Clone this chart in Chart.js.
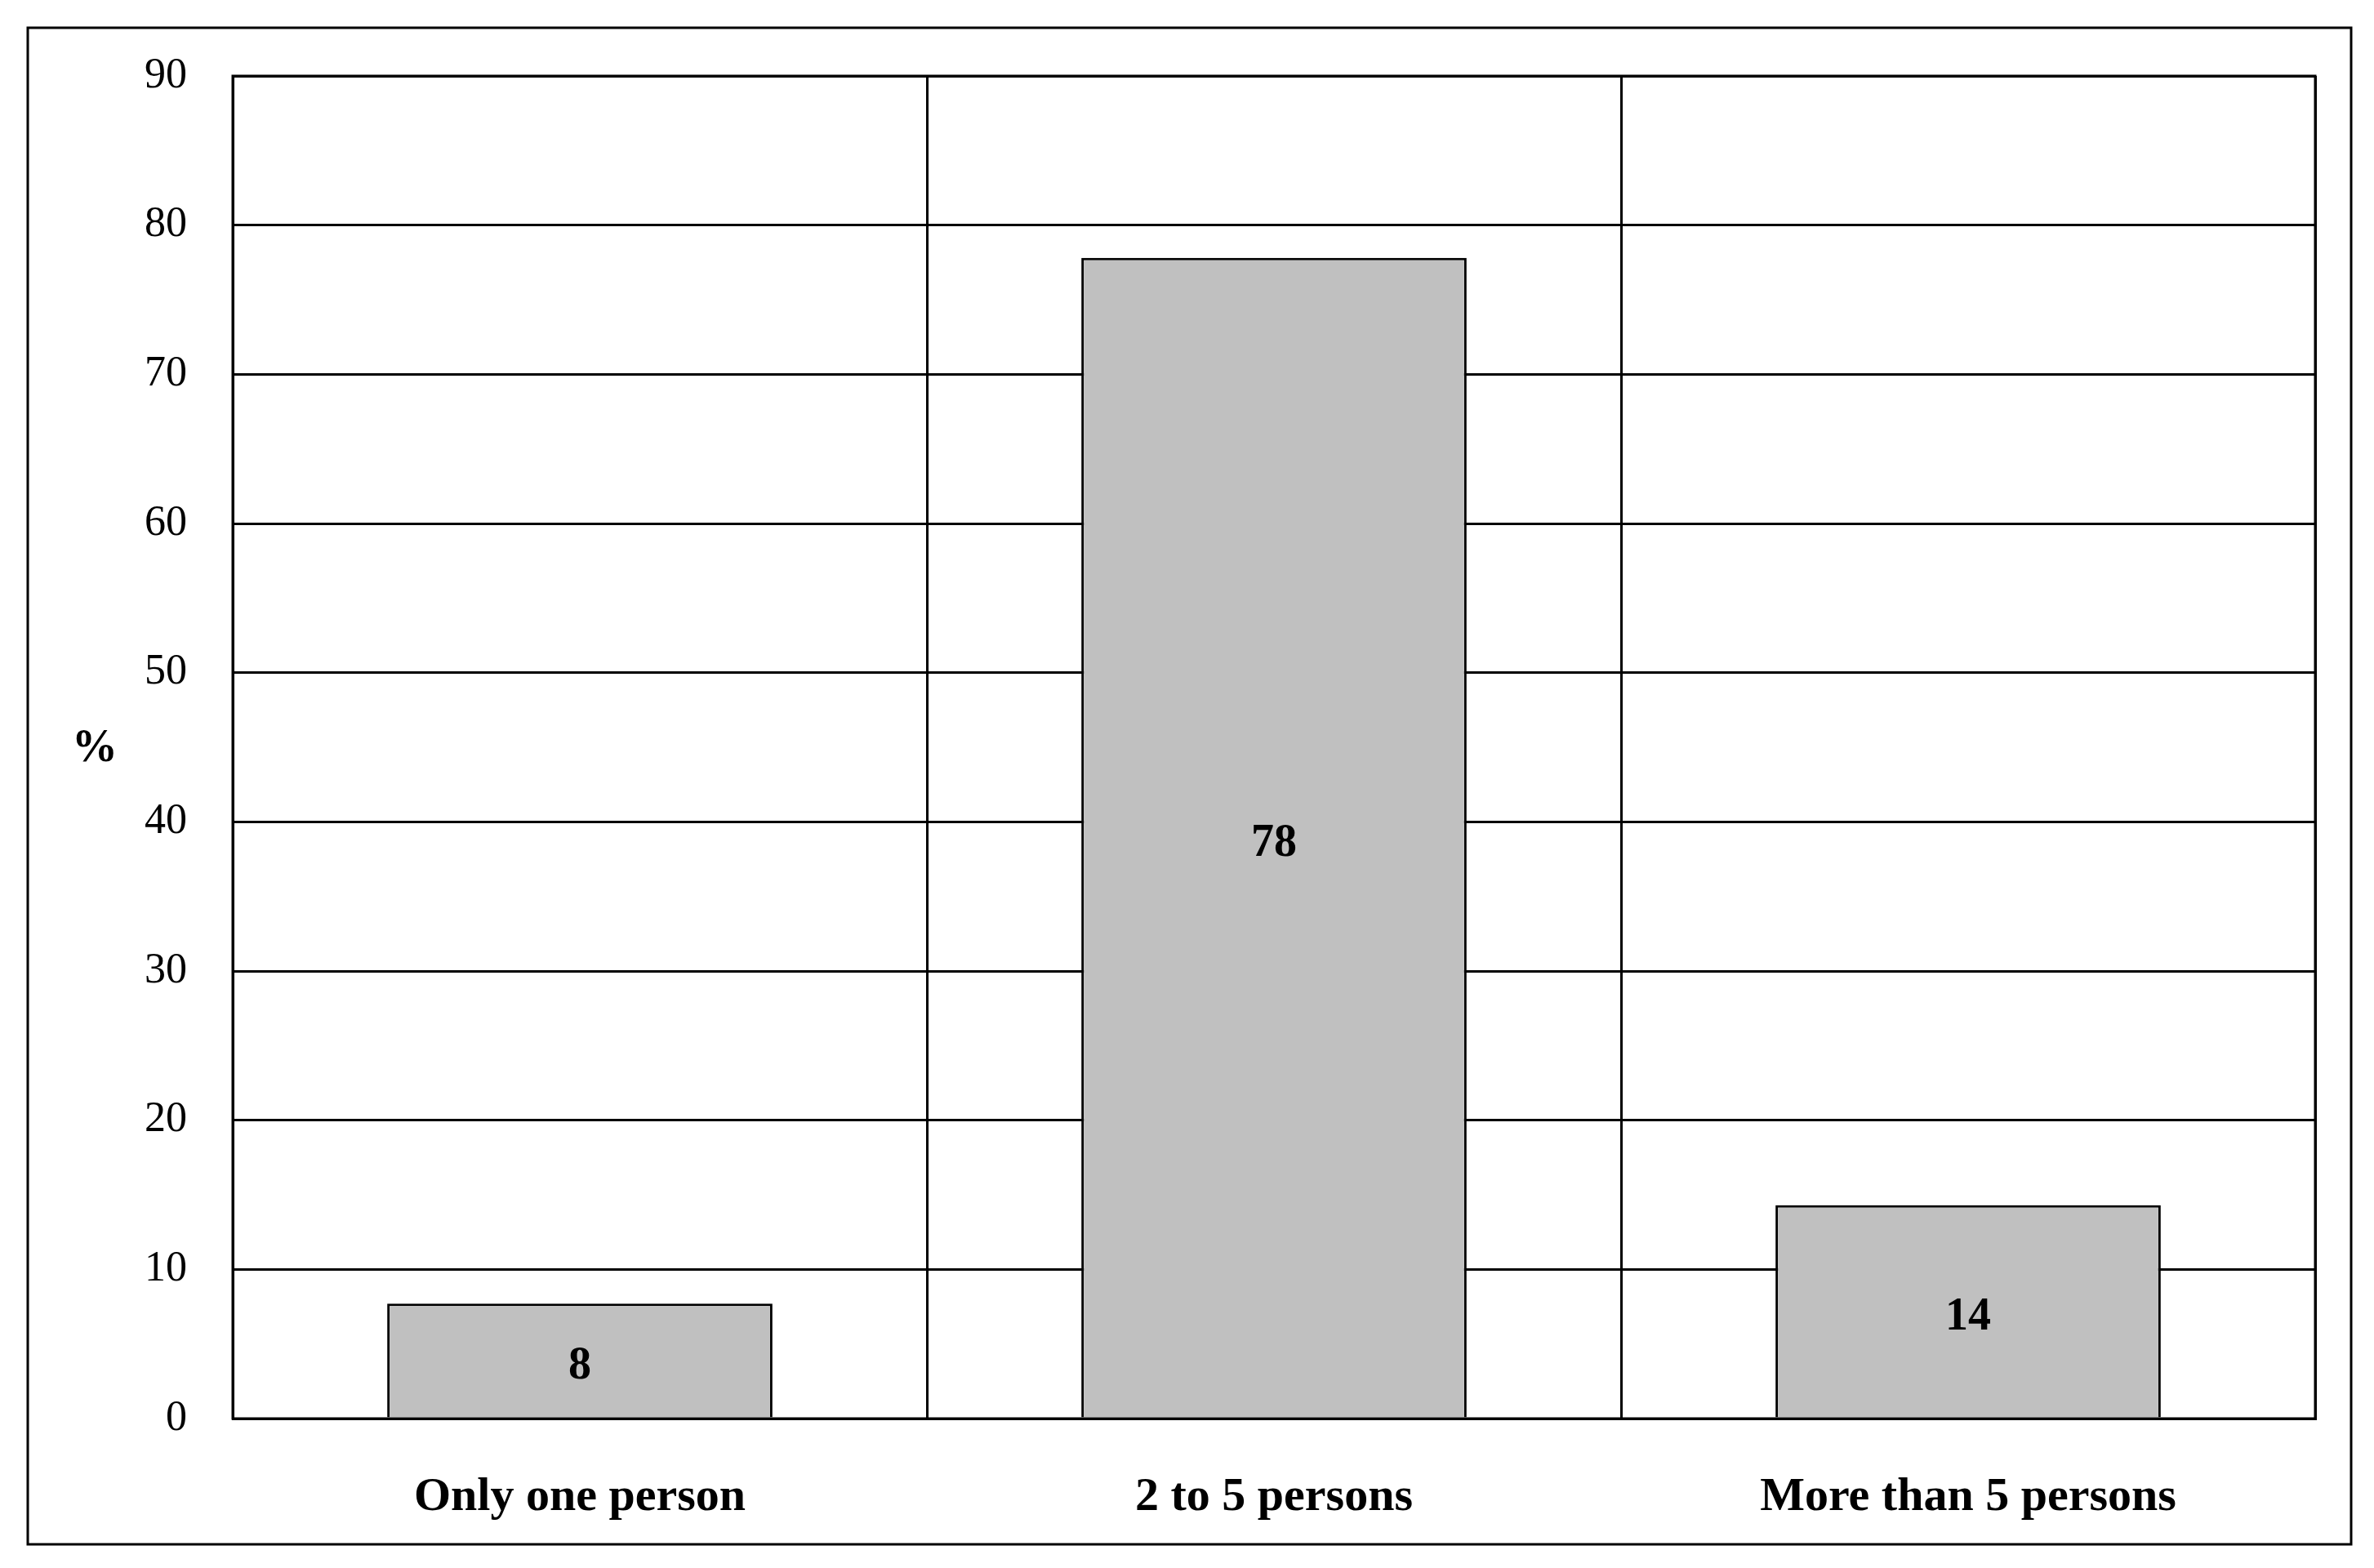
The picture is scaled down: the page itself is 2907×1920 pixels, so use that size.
<!DOCTYPE html>
<html><head><meta charset="utf-8">
<script src="https://cdn.jsdelivr.net/npm/chart.js@4"></script>
<style>html,body{margin:0;padding:0;background:#fff}#c{display:block}</style>
</head><body>
<canvas id="c" width="2907" height="1920" style="width:2907px;height:1920px"></canvas>
<script>
const categories = ["Only one person", "2 to 5 persons", "More than 5 persons"];
const values = [7.7, 77.8, 14.3];
const valueLabels = ["8", "78", "14"];
const yTicks = [0,10,20,30,40,50,60,70,80,90];
const FONT = "'Liberation Serif', 'DejaVu Serif', serif";

const deco = {
  id:'deco',
  afterDraw(chart){
    const ctx = chart.ctx, a = chart.chartArea;
    ctx.save();
    ctx.strokeStyle='#000'; ctx.lineWidth=3;
    ctx.strokeRect(34,34,2845,1857);
    ctx.strokeRect(a.left,a.top,a.right-a.left,a.bottom-a.top);
    ctx.fillStyle='#000';
    ctx.font = "bold 56px " + FONT;
    ctx.textAlign='center'; ctx.textBaseline='middle';
    const meta = chart.getDatasetMeta(0);
    meta.data.forEach((bar,i)=>{
      ctx.fillText(valueLabels[i], bar.x, (bar.y+bar.base)/2 + 8);
    });
    ctx.fillText('%', 116, 918);
    ctx.restore();
  }
};

new Chart(document.getElementById('c'), {
  type:'bar',
  data:{labels:categories, datasets:[{data:values, backgroundColor:'#c0c0c0', borderColor:'#000', borderWidth:3, barPercentage:0.555, categoryPercentage:1}]},
  options:{
    responsive:false, animation:false,
    layout:{padding:{left:0,top:93,right:72,bottom:0}},
    plugins:{legend:{display:false}, tooltip:{enabled:false}},
    scales:{
      x:{
        grid:{color:'#000', lineWidth:3, drawTicks:false, offset:true},
        border:{color:'#000', width:3},
        ticks:{color:'#000', font:{family:FONT, size:58, weight:'bold'}, padding:62},
        afterFit(s){s.height=183;}
      },
      y:{
        min:0, max:90,
        afterBuildTicks(s){s.ticks = yTicks.map(v=>({value:v}));},
        grid:{color:'#000', lineWidth:3, drawTicks:false},
        border:{color:'#000', width:3},
        ticks:{color:'#000', font:{family:FONT, size:52}, padding:56},
        afterFit(s){s.width=285;}
      }
    }
  },
  plugins:[deco]
});
</script>
</body></html>
